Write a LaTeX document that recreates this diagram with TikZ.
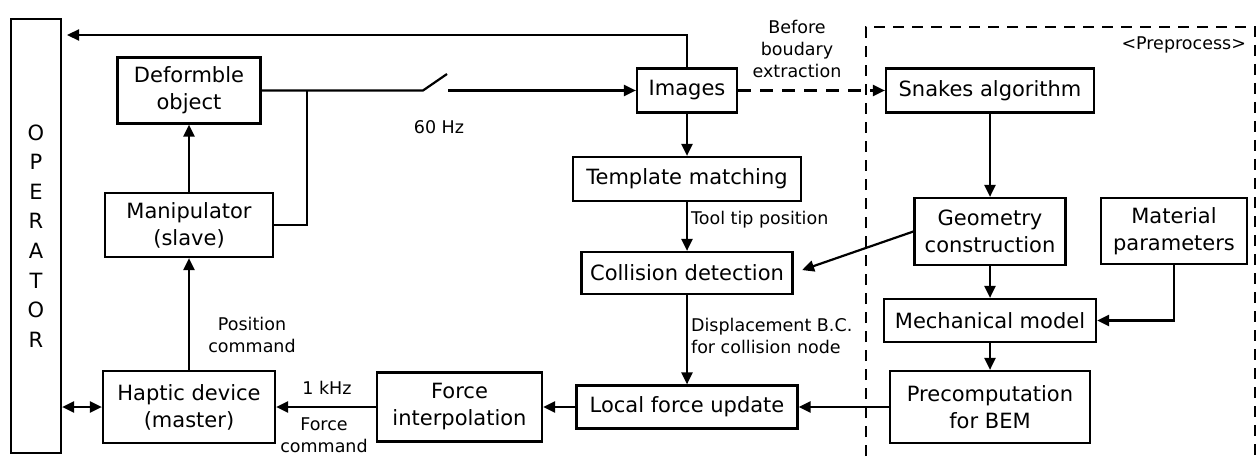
\documentclass[tikz,border=0pt]{standalone}
\usepackage{fontspec}
\setmainfont{DejaVu Sans}
\usetikzlibrary{arrows.meta,calc}
\begin{document}
\begin{tikzpicture}[x=1pt,y=-1pt,
  line width=2.2pt,
  blk/.style={draw, line width=2.2pt, inner sep=0pt, align=center,
    font=\fontsize{21}{27}\selectfont},
  lbl/.style={inner sep=0pt, align=center, font=\fontsize{17.5}{22}\selectfont},
  arr/.style={-{Triangle[length=12pt,width=11pt]}},
  dasharr/.style={arr, dash pattern=on 13pt off 9pt},
  region/.style={dash pattern=on 11pt off 8pt}]
\useasboundingbox (0,0) rectangle (1257,457);
\clip (0,0) rectangle (1257,457);

% operator column
\node[blk, minimum width=50pt, minimum height=434pt,
  font=\fontsize{21}{29.6}\selectfont] (op) at (36,236)
  {O\\P\\E\\R\\A\\T\\O\\R};

% slave side
\node[blk, minimum width=143pt, minimum height=66pt] (deform) at (189,90.5) {Deformble\\object};
\node[blk, minimum width=168pt, minimum height=64pt] (manip) at (189,225) {Manipulator\\(slave)};
\node[blk, minimum width=172pt, minimum height=72pt] (haptic) at (189,407) {Haptic device\\(master)};
\node[blk, minimum width=165pt, minimum height=69pt] (forceint) at (459.5,407) {Force\\interpolation};

% on-line processing
\node[blk, minimum width=100pt, minimum height=44pt] (images) at (687,90.5) {Images};
\node[blk, minimum width=228pt, minimum height=44pt] (template) at (687,179) {Template matching};
\node[blk, minimum width=211pt, minimum height=42pt] (collision) at (687,273) {Collision detection};
\node[blk, minimum width=221pt, minimum height=43pt] (local) at (687,407) {Local force update};

% preprocessing
\node[blk, minimum width=208pt, minimum height=44pt] (snakes) at (990,90.5) {Snakes algorithm};
\node[blk, minimum width=151pt, minimum height=67pt] (geometry) at (990,231.5) {Geometry\\construction};
\node[blk, minimum width=146pt, minimum height=66pt] (material) at (1174,231) {Material\\parameters};
\node[blk, minimum width=212pt, minimum height=43pt] (mech) at (990,320.5) {Mechanical model};
\node[blk, minimum width=200pt, minimum height=72pt] (precomp) at (990,407) {Precomputation\\for BEM};

% preprocess region
\draw[region] (866,475) -- (866,27) -- (1255,27) -- (1255,475);
\node[lbl, anchor=east] (pretitle) at (1247,45) {<Preprocess>};

% switch and video feedback
\coordinate (sw1) at (423,90.5);
\coordinate (sw2) at (447,74);
\coordinate (sw3) at (448,90.5);
\coordinate (join) at (307,90.5);
\coordinate (opfb) at (67,35);
\draw (deform.east) -- (sw1) -- (sw2);
\draw[arr] (sw3) -- (images.west);
\draw (manip.east) -| (join);
\draw[arr] (images.north) |- (opfb);
\node[lbl] (hz60) at (439,127) {60 Hz};

% master-slave loop
\draw[arr] (haptic.north) -- (manip.south);
\draw[arr] (manip.north) -- (deform.south);
\draw[{Triangle[length=12pt,width=11pt]}-{Triangle[length=12pt,width=11pt]}]
  (op.east |- haptic.west) -- (haptic.west);
\draw[arr] (forceint.west) -- (haptic.east);
\draw[arr] (local.west) -- (forceint.east);
\draw[arr] (precomp.west) -- (local.east);
\node[lbl] (poscmd) at (252,335) {Position\\command};
\node[lbl] (khz) at (327,388) {1 kHz};
\node[lbl] (forcecmd) at (324,435) {Force\\command};

% image processing chain
\draw[arr] (images.south) -- (template.north);
\draw[arr] (template.south) -- (collision.north);
\draw[arr] (collision.south) -- (local.north);
\node[lbl, anchor=west] (tooltip) at (690,220) {Tool tip position};
\node[lbl, anchor=west, align=left] (dispbc) at (690,336) {Displacement B.C.\\for collision node};

% preprocessing chain
\draw[dasharr] (images.east) -- (snakes.west);
\node[lbl] (before) at (797,49) {Before\\boudary\\extraction};
\draw[arr] (snakes.south) -- (geometry.north);
\draw[arr] (geometry.south) -- (mech.north);
\draw[arr] (material.south) |- (mech.east);
\draw[arr] (mech.south) -- (precomp.north);
\draw[arr, shorten >=9pt] (geometry.west) -- (collision.east);
\end{tikzpicture}
\end{document}
